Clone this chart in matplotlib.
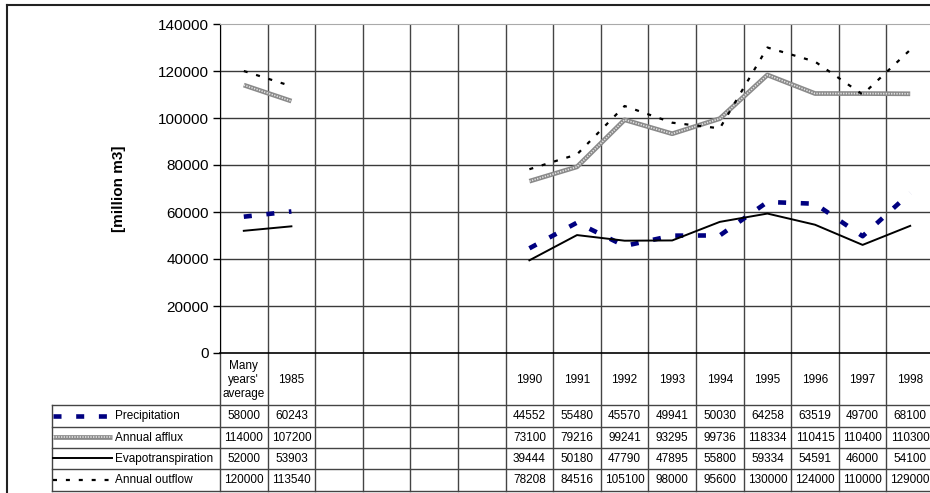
import numpy as np
import matplotlib
matplotlib.use("Agg")
import matplotlib.pyplot as plt
from matplotlib.transforms import blended_transform_factory
from matplotlib.lines import Line2D

plt.rcParams['font.family'] = ['Liberation Sans', 'DejaVu Sans']

categories = ["Many\nyears'\naverage", "1985", "", "", "", "",
              "1990", "1991", "1992", "1993", "1994", "1995", "1996", "1997", "1998"]
nan = np.nan
precipitation = [58000, 60243, nan, nan, nan, nan,
                 44552, 55480, 45570, 49941, 50030, 64258, 63519, 49700, 68100]
annual_afflux = [114000, 107200, nan, nan, nan, nan,
                 73100, 79216, 99241, 93295, 99736, 118334, 110415, 110400, 110300]
evapotranspiration = [52000, 53903, nan, nan, nan, nan,
                      39444, 50180, 47790, 47895, 55800, 59334, 54591, 46000, 54100]
annual_outflow = [120000, 113540, nan, nan, nan, nan,
                  78208, 84516, 105100, 98000, 95600, 130000, 124000, 110000, 129000]
series_names = ["Precipitation", "Annual afflux", "Evapotranspiration", "Annual outflow"]
yticks = [0, 20000, 40000, 60000, 80000, 100000, 120000, 140000]

W, H = 930, 493
fig = plt.figure(figsize=(W / 100, H / 100), dpi=100)

# overlay in pixel coordinates for the frame and table lines
ov = fig.add_axes([0, 0, 1, 1], zorder=0)
ov.set_xlim(0, W)
ov.set_ylim(H, 0)
ov.axis('off')

left, top, bottom, right = 220, 24, 353, 934
ax = fig.add_axes([left / W, (H - bottom) / H, (right - left) / W, (bottom - top) / H], zorder=1)
ax.patch.set_alpha(0)
n = len(categories)
x = np.arange(n)
ax.set_xlim(-0.5, n - 0.5)
ax.set_ylim(0, 140000)
ax.set_yticks(yticks)
ax.set_yticklabels([str(v) for v in yticks], fontsize=11)
ax.tick_params(axis='y', length=5, width=1, color='black', pad=3)
ax.set_xticks([])
ax.spines['right'].set_visible(False)
ax.spines['top'].set_color('#aaaaaa')
ax.spines['left'].set_color('black')
ax.spines['bottom'].set_color('black')
ax.spines['bottom'].set_linewidth(1.2)

# gridlines
for v in yticks[1:-1]:
    ax.axhline(v, color='#3a3a3a', lw=1.0, zorder=1)
for b in np.arange(n + 1) - 0.5:
    ax.axvline(b, color='#444444', lw=1.0, zorder=1)

ax.set_ylabel("[million m3]", fontsize=11, fontweight='bold')
ax.yaxis.set_label_coords((126 - left) / (right - left), 0.5)

# line styles
prec_style = dict(color='#000080', lw=3.3, ls=(0, (1.75, 3.2)), solid_capstyle='butt')
evap_style = dict(color='black', lw=1.4)
out_style = dict(color='black', lw=1.6, ls=(0, (1.8, 4.0)))


def draw_afflux(axis, xs, ys):
    axis.plot(xs, ys, color='#8a8a8a', lw=3.4, solid_capstyle='butt', zorder=3)
    axis.plot(xs, ys, color='#e4e4e4', lw=1.2, ls=(0, (0.8, 0.8)), zorder=4)


ax.plot(x, precipitation, zorder=5, **prec_style)
draw_afflux(ax, x, annual_afflux)
ax.plot(x, evapotranspiration, zorder=5, **evap_style)
ax.plot(x, annual_outflow, zorder=5, **out_style)

# data table below the axis
tr = blended_transform_factory(ax.transData, ov.transData)
header_bottom = 405
row_lines = [405, 426.5, 448, 469, 490.5]
table_left = 52
grid_c = '#444444'
fs = 8.5
for b in np.arange(n + 1) - 0.5:
    ov.add_line(Line2D([b, b], [bottom, row_lines[-1]], transform=tr, color=grid_c, lw=1.0))
for yy in row_lines:
    ov.add_line(Line2D([table_left, W], [yy, yy], color=grid_c, lw=1.0))
ov.add_line(Line2D([table_left, table_left], [row_lines[0], row_lines[-1]], color=grid_c, lw=1.0))

for i, c in enumerate(categories):
    ov.text(i, (bottom + header_bottom) / 2 + 1, c, transform=tr, ha='center', va='center',
            fontsize=fs, linespacing=1.2)

all_series = [precipitation, annual_afflux, evapotranspiration, annual_outflow]
for r, (name, vals) in enumerate(zip(series_names, all_series)):
    yc = (row_lines[r] + row_lines[r + 1]) / 2
    for i, v in enumerate(vals):
        if not np.isnan(v):
            ov.text(i, yc + 0.5, f"{int(v)}", transform=tr, ha='center', va='center', fontsize=fs)
    ov.text(115, yc + 0.5, name, ha='left', va='center', fontsize=fs)

# legend keys inside the table
sx = np.array([53, 112])
ov.plot([53, 109], [416, 416], **prec_style)
draw_afflux(ov, sx, [437, 437])
ov.plot(sx, [458, 458], **evap_style)
ov.plot(sx, [479.5, 479.5], **out_style)

# outer frame
ov.add_line(Line2D([7, W], [5, 5], color='#222222', lw=1.5))
ov.add_line(Line2D([7, 7], [5, H], color='#222222', lw=1.5))

fig.savefig("out.png", dpi=100)
